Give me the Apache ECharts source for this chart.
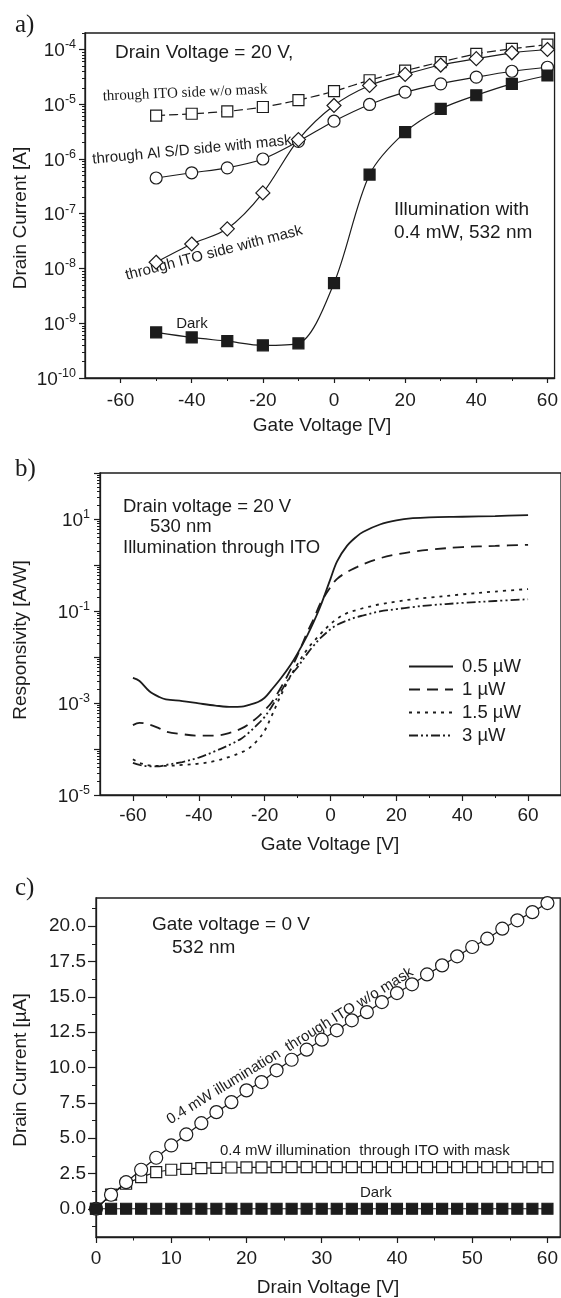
<!DOCTYPE html>
<html>
<head>
<meta charset="utf-8">
<script src="https://cdn.jsdelivr.net/npm/echarts@6/dist/echarts.min.js"></script>
<style>
html,body{margin:0;padding:0;background:#fff;}
#chart{width:561px;height:1298px;}
</style>
</head>
<body>
<div id="chart"></div>
<script>
// ---------- Panel a data: drain current vs gate voltage (log A) ----------
const gateA = [-50, -40, -30, -20, -10, 0, 10, 20, 30, 40, 50, 60];
const itoNoMask = [6.2e-6, 6.7e-6, 7.4e-6, 8.9e-6, 1.19e-5, 1.73e-5, 2.74e-5, 4.1e-5, 5.9e-5, 8.3e-5, 1.03e-4, 1.23e-4];
const alWithMask = [4.5e-7, 5.6e-7, 6.9e-7, 1.0e-6, 2.1e-6, 4.9e-6, 9.9e-6, 1.66e-5, 2.36e-5, 3.12e-5, 4.0e-5, 4.74e-5];
const itoWithMask = [1.3e-8, 2.8e-8, 5.3e-8, 2.4e-7, 2.26e-6, 9.5e-6, 2.2e-5, 3.5e-5, 5.2e-5, 6.8e-5, 8.7e-5, 1.0e-4];
const darkA = [6.8e-10, 5.5e-10, 4.7e-10, 3.95e-10, 4.3e-10, 5.4e-9, 5.2e-7, 3.1e-6, 8.2e-6, 1.46e-5, 2.36e-5, 3.35e-5];
const xTicksA = [-60, -40, -20, 0, 20, 40, 60];
const xMinorA = [-50, -30, -10, 10, 30, 50];
const yTicksA = [1e-10, 1e-9, 1e-8, 1e-7, 1e-6, 1e-5, 1e-4];

// ---------- Panel b data: responsivity vs gate voltage (log A/W) ----------
const gateB = [-60, -58, -55, -52, -50, -45, -40, -35, -30, -27, -25, -22, -20, -18, -15, -12, -10, -7, -5, -3, 0, 2, 5, 8, 10, 15, 20, 25, 30, 40, 50, 60];
const resp05 = [3.5e-3, 3.0e-3, 1.8e-3, 1.35e-3, 1.2e-3, 1.1e-3, 9.8e-4, 8.8e-4, 8.2e-4, 8.3e-4, 9.0e-4, 1.05e-3, 1.3e-3, 1.9e-3, 3.5e-3, 7e-3, 1.2e-2, 3e-2, 6e-2, 0.13, 0.5, 1.2, 2.6, 4.2, 5.3, 7.6, 9.3, 10.4, 10.9, 11.2, 11.6, 12.2];
const resp1 = [3.3e-4, 3.7e-4, 3.4e-4, 2.8e-4, 2.4e-4, 2.1e-4, 1.95e-4, 1.95e-4, 2.3e-4, 2.8e-4, 3.4e-4, 5e-4, 7e-4, 1.0e-3, 2.2e-3, 5.5e-3, 1.1e-2, 3.5e-2, 7e-2, 0.15, 0.33, 0.5, 0.7, 0.9, 1.05, 1.4, 1.7, 1.95, 2.15, 2.45, 2.6, 2.75];
const resp15 = [6e-5, 5e-5, 4.4e-5, 4.3e-5, 4.3e-5, 4.5e-5, 4.8e-5, 5.5e-5, 7e-5, 8.5e-5, 1.0e-4, 1.6e-4, 2.5e-4, 5e-4, 1.5e-3, 4e-3, 7e-3, 1.5e-2, 2.2e-2, 3.2e-2, 5.2e-2, 6.8e-2, 9e-2, 0.105, 0.115, 0.14, 0.16, 0.18, 0.195, 0.23, 0.265, 0.3];
const resp3 = [5e-5, 4.5e-5, 4.2e-5, 4.2e-5, 4.5e-5, 5.2e-5, 6.5e-5, 9e-5, 1.3e-4, 1.7e-4, 2.2e-4, 3.5e-4, 5e-4, 8e-4, 1.8e-3, 4e-3, 6e-3, 1.2e-2, 1.8e-2, 2.6e-2, 4e-2, 5e-2, 6.2e-2, 7.4e-2, 8e-2, 9.8e-2, 0.11, 0.122, 0.133, 0.15, 0.165, 0.18];
const legendB = ['0.5 µW', '1 µW', '1.5 µW', '3 µW'];
const xTicksB = [-60, -40, -20, 0, 20, 40, 60];
const xMinorB = [-50, -30, -10, 10, 30, 50];
const yTicksB = [1e-5, 1e-4, 1e-3, 1e-2, 1e-1, 1, 10, 100];
const yLabelsB = [1e-5, 1e-3, 1e-1, 10];

// ---------- Panel c data: drain current vs drain voltage (µA) ----------
const drainC = [0, 2, 4, 6, 8, 10, 12, 14, 16, 18, 20, 22, 24, 26, 28, 30, 32, 34, 36, 38, 40, 42, 44, 46, 48, 50, 52, 54, 56, 58, 60];
const cNoMask = [0, 0.99, 1.88, 2.76, 3.61, 4.48, 5.26, 6.06, 6.84, 7.55, 8.38, 8.97, 9.8, 10.55, 11.26, 11.97, 12.63, 13.34, 13.92, 14.63, 15.27, 15.89, 16.59, 17.23, 17.87, 18.53, 19.12, 19.83, 20.42, 21.0, 21.64];
const cWithMask = [0, 1.0, 1.77, 2.24, 2.6, 2.76, 2.83, 2.88, 2.9, 2.92, 2.93, 2.93, 2.94, 2.94, 2.94, 2.94, 2.95, 2.95, 2.95, 2.95, 2.95, 2.95, 2.95, 2.95, 2.95, 2.95, 2.95, 2.95, 2.95, 2.95, 2.95];
const cDark = [0, 0, 0, 0, 0, 0, 0, 0, 0, 0, 0, 0, 0, 0, 0, 0, 0, 0, 0, 0, 0, 0, 0, 0, 0, 0, 0, 0, 0, 0, 0];
const xTicksC = [0, 10, 20, 30, 40, 50, 60];
const xMinorC = [5, 15, 25, 35, 45, 55];
const yTicksC = [0, 2.5, 5, 7.5, 10, 12.5, 15, 17.5, 20];
const yMinorC = [-1.25, 1.25, 3.75, 6.25, 8.75, 11.25, 13.75, 16.25, 18.75, 21.25];

// ---------- styling / helpers ----------
const SANS = '"Liberation Sans", Arial, Helvetica, sans-serif';
const SERIF = '"Liberation Serif", "Times New Roman", serif';
const INK = '#1c1c1c';

function logMinors(fromExp, toExp, max) {
  const out = [];
  for (let e = fromExp; e <= toExp; e++) {
    for (let m = 2; m <= 9; m++) {
      const v = m * Math.pow(10, e);
      if (v <= max) out.push(v);
    }
  }
  return out;
}
const pow10Fmt = v => '{b|10}{s|' + Math.round(Math.log10(v)) + '}';
const powRich = {
  b: {fontSize: 19, fontFamily: SANS, color: INK, lineHeight: 22, verticalAlign: 'bottom'},
  s: {fontSize: 12.5, fontFamily: SANS, color: INK, lineHeight: 13, verticalAlign: 'top'}
};

function mainAxis(kind, gi, type, min, max, tickVals, labelVals, fmt, tickLen, margin, rich) {
  const ax = {
    type: type, gridIndex: gi, min: min, max: max,
    position: kind === 'x' ? 'bottom' : 'left',
    axisLine: {show: true, onZero: false, lineStyle: {color: INK, width: 1.3}},
    axisTick: {show: true, inside: false, length: tickLen, customValues: tickVals, lineStyle: {color: INK, width: 1.2}},
    axisLabel: {show: true, customValues: labelVals, formatter: fmt, margin: margin, color: INK, fontSize: 19, fontFamily: SANS, hideOverlap: false},
    splitLine: {show: false}, minorTick: {show: false}
  };
  if (rich) ax.axisLabel.rich = rich;
  return ax;
}
function minorAxis(kind, gi, type, min, max, tickVals, tickLen) {
  return {
    type: type, gridIndex: gi, min: min, max: max,
    position: kind === 'x' ? 'bottom' : 'left',
    axisLine: {show: false, onZero: false},
    axisTick: {show: true, inside: false, length: tickLen, customValues: tickVals, lineStyle: {color: INK, width: 1}},
    axisLabel: {show: false},
    splitLine: {show: false}, minorTick: {show: false}
  };
}
const pairs = (xs, ys) => xs.map((x, i) => [x, ys[i]]);

function markerSeries(name, xi, yi, xs, ys, symbol, size, filled, dash, smooth, z) {
  return {
    name: name, type: 'line', xAxisIndex: xi, yAxisIndex: yi,
    data: pairs(xs, ys), symbol: symbol, symbolSize: size, showSymbol: true,
    smooth: smooth, color: INK, z: z || 2,
    lineStyle: {color: INK, width: 1.2, type: dash || 'solid'},
    itemStyle: {color: filled ? INK : '#ffffff', borderColor: INK, borderWidth: 1.2},
    emphasis: {disabled: true}, silent: true
  };
}
function curveSeries(name, ys, dash) {
  return {
    name: name, type: 'line', xAxisIndex: 2, yAxisIndex: 2,
    data: pairs(gateB, ys), symbol: 'none', smooth: 0.35, color: INK,
    lineStyle: {color: INK, width: 1.8, type: dash},
    emphasis: {disabled: true}, silent: true
  };
}

function txt(text, x, y, opt) {
  opt = opt || {};
  return {
    type: 'text', x: x, y: y, rotation: opt.rot || 0, silent: true,
    style: {
      text: text, fill: INK,
      font: (opt.size || 19) + 'px ' + (opt.family || SANS),
      fontSize: opt.size || 19, fontFamily: opt.family || SANS,
      textAlign: opt.align || 'left', align: opt.align || 'left',
      textVerticalAlign: 'middle', verticalAlign: 'middle'
    }
  };
}
const deg = d => d * Math.PI / 180;

const option = {
  animation: false,
  backgroundColor: '#ffffff',
  grid: [
    {left: 85, top: 33, width: 475, height: 345, show: true, borderColor: INK, borderWidth: 1.3, backgroundColor: 'transparent'},
    {left: 100, top: 473, width: 461, height: 322, show: true, borderColor: INK, borderWidth: 1.3, backgroundColor: 'transparent'},
    {left: 96, top: 898, width: 465, height: 339, show: true, borderColor: INK, borderWidth: 1.3, backgroundColor: 'transparent'}
  ],
  xAxis: [
    mainAxis('x', 0, 'value', -70, 62, xTicksA, xTicksA, v => String(v), 5, 13),
    minorAxis('x', 0, 'value', -70, 62, xMinorA, 3),
    mainAxis('x', 1, 'value', -70, 70, xTicksB, xTicksB, v => String(v), 6, 11),
    minorAxis('x', 1, 'value', -70, 70, xMinorB, 3),
    mainAxis('x', 2, 'value', 0, 61.7, xTicksC, xTicksC, v => String(v), 6, 12),
    minorAxis('x', 2, 'value', 0, 61.7, xMinorC, 3.5)
  ],
  yAxis: [
    mainAxis('y', 0, 'log', 1e-10, 2e-4, yTicksA, yTicksA, pow10Fmt, 6, 9, powRich),
    minorAxis('y', 0, 'log', 1e-10, 2e-4, logMinors(-10, -4, 2e-4), 3),
    mainAxis('y', 1, 'log', 1e-5, 100, yTicksB, yLabelsB, pow10Fmt, 6, 10, powRich),
    minorAxis('y', 1, 'log', 1e-5, 100, logMinors(-5, 1, 100), 3),
    mainAxis('y', 2, 'value', -2, 22, yTicksC, yTicksC, v => v.toFixed(1), 8, 10),
    minorAxis('y', 2, 'value', -2, 22, yMinorC, 4)
  ],
  legend: {
    show: true, orient: 'vertical', left: 403, top: 652,
    itemWidth: 44, itemHeight: 14, itemGap: 4,
    data: legendB,
    itemStyle: {opacity: 0, color: 'transparent', borderWidth: 0},
    textStyle: {fontSize: 18.5, color: INK, fontFamily: SANS, padding: [0, 0, 0, 4]},
    selectedMode: false
  },
  series: [
    // panel a
    markerSeries('ITO w/o mask', 0, 0, gateA, itoNoMask, 'rect', 11, false, [9, 4], 0.3),
    markerSeries('Al S/D with mask', 0, 0, gateA, alWithMask, 'circle', 12, false, 'solid', 0.3),
    markerSeries('ITO with mask', 0, 0, gateA, itoWithMask, 'diamond', 14, false, 'solid', 0.3),
    markerSeries('Dark a', 0, 0, gateA, darkA, 'rect', 11, true, 'solid', 0.3),
    // panel b
    curveSeries(legendB[0], resp05, 'solid'),
    curveSeries(legendB[1], resp1, [11, 7]),
    curveSeries(legendB[2], resp15, [3, 5]),
    curveSeries(legendB[3], resp3, [9, 3, 2, 3, 2, 3]),
    // panel c
    markerSeries('ITO with mask c', 4, 4, drainC, cWithMask, 'rect', 11, false, 'solid', false, 2),
    markerSeries('ITO w/o mask c', 4, 4, drainC, cNoMask, 'circle', 13, false, 'solid', false, 3),
    markerSeries('Dark c', 4, 4, drainC, cDark, 'rect', 11, true, 'solid', false, 4)
  ],
  graphic: {elements: [
    // panel a
    txt('a)', 15, 25, {size: 25, family: SERIF}),
    txt('Drain Voltage = 20 V,', 115, 53),
    txt('through ITO side w/o mask', 185, 93, {size: 15, family: SERIF, align: 'center', rot: deg(2.5)}),
    txt('through Al S/D side with mask', 192, 150, {size: 15, align: 'center', rot: deg(5.5)}),
    txt('through ITO side with mask', 214, 253, {size: 15, align: 'center', rot: deg(14.5)}),
    txt('Dark', 192, 324, {size: 15, align: 'center'}),
    txt('Illumination with', 394, 210),
    txt('0.4 mW, 532 nm', 394, 233),
    txt('Drain Current [A]', 21, 218, {align: 'center', rot: deg(90)}),
    txt('Gate Voltage [V]', 322, 426, {align: 'center'}),
    // panel b
    txt('b)', 15, 469, {size: 25, family: SERIF}),
    txt('Drain voltage = 20 V', 123, 507, {size: 18.5}),
    txt('530 nm', 150, 527, {size: 18.5}),
    txt('Illumination through ITO', 123, 548, {size: 18.5}),
    txt('Responsivity [A/W]', 21, 640, {align: 'center', rot: deg(90)}),
    txt('Gate Voltage [V]', 330, 845, {align: 'center'}),
    // panel c
    txt('c)', 15, 888, {size: 25, family: SERIF}),
    txt('Gate voltage = 0 V', 152, 925),
    txt('532 nm', 172, 948),
    txt('0.4 mW illumination  through ITO w/o mask', 290, 1046, {size: 15, align: 'center', rot: deg(31.6)}),
    txt('0.4 mW illumination  through ITO with mask', 220, 1151, {size: 15}),
    txt('Dark', 360, 1193, {size: 15}),
    txt('Drain Current [µA]', 21, 1070, {align: 'center', rot: deg(90)}),
    txt('Drain Voltage [V]', 328, 1288, {align: 'center'})
  ]}
};

const chart = echarts.init(document.getElementById('chart'), null, {renderer: 'canvas', width: 561, height: 1298});
chart.setOption(option);
</script>
</body>
</html>
